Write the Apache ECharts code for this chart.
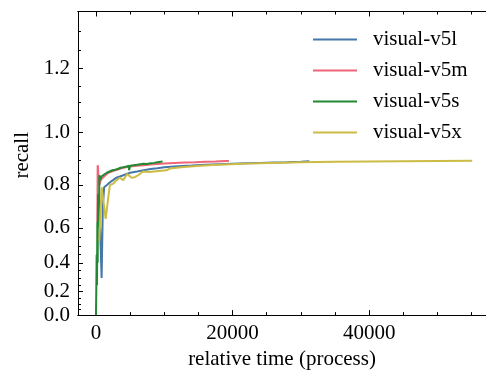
<!DOCTYPE html>
<html><head><meta charset="utf-8">
<script src="https://cdn.jsdelivr.net/npm/echarts@6/dist/echarts.min.js"></script>
<style>html,body{margin:0;padding:0;background:#fff}#c{width:486px;height:375px}</style>
</head><body><div id="c"></div>
<script>
// ---- data (recall vs relative time) ----
const names = ["visual-v5l", "visual-v5m", "visual-v5s", "visual-v5x"];
const colors = ["#4477AA", "#EE6677", "#228833", "#CCBB44"];

const v5lX = [400, 600, 830, 1000, 1200, 1600, 2000, 2500, 3000, 3500, 4000, 5000, 6000, 7000, 8000, 9000, 10000, 12000, 14000, 16000, 18000, 20000, 22000, 24000, 26000, 28000, 30000, 31240];
const v5lY = [0.53, 0.60, 0.30, 0.70, 0.79, 0.80, 0.81, 0.82, 0.83, 0.835, 0.84, 0.85, 0.855, 0.86, 0.865, 0.868, 0.872, 0.876, 0.879, 0.882, 0.884, 0.886, 0.888, 0.889, 0.890, 0.891, 0.893, 0.895];

const v5mX = [200, 250, 300, 400, 500, 700, 1000, 1400, 1800, 2300, 2800, 3400, 4000, 5000, 6000, 7000, 8000, 9000, 10000, 11500, 13000, 14500, 16000, 17500, 19000, 19460];
const v5mY = [0.63, 0.88, 0.87, 0.81, 0.80, 0.82, 0.83, 0.84, 0.85, 0.855, 0.86, 0.865, 0.87, 0.875, 0.878, 0.88, 0.883, 0.885, 0.887, 0.889, 0.89, 0.891, 0.893, 0.894, 0.896, 0.896];

const v5sX = [0, 50, 100, 150, 200, 250, 300, 400, 500, 600, 800, 1000, 1300, 1600, 2000, 2400, 2800, 3200, 3600, 4000, 4500, 4800, 4850, 5000, 5500, 6000, 6500, 7000, 7500, 8000, 8500, 9000, 9500, 9740];
const v5sY = [0.0, 0.22, 0.45, 0.25, 0.63, 0.40, 0.76, 0.60, 0.84, 0.82, 0.835, 0.84, 0.845, 0.85, 0.855, 0.86, 0.862, 0.865, 0.87, 0.872, 0.875, 0.878, 0.86, 0.878, 0.88, 0.882, 0.884, 0.886, 0.885, 0.888, 0.889, 0.891, 0.893, 0.895];

const v5xX = [480, 830, 1000, 1420, 1700, 2040, 2500, 3022, 3504, 3985, 4569, 5212, 5693, 6175, 6905, 7800, 8861, 10321, 10803, 12500, 14700, 17000, 19560, 22500, 25400, 30000, 35000, 40000, 45000, 50000, 55080];
const v5xY = [0.53, 0.79, 0.75, 0.645, 0.72, 0.80, 0.805, 0.82, 0.83, 0.82, 0.845, 0.83, 0.832, 0.84, 0.855, 0.853, 0.856, 0.86, 0.867, 0.872, 0.877, 0.881, 0.884, 0.887, 0.889, 0.891, 0.893, 0.894, 0.895, 0.896, 0.897];

// ---- ticks ----
const xMajorTicks = [0, 20000, 40000];
const xMinorTicks = [5000, 10000, 15000, 25000, 30000, 35000, 45000, 50000, 55000];
const yMajorTicks = [0.0, 0.2, 0.4, 0.6, 0.8, 1.0, 1.2];
const yMinorTicks = [0.05, 0.1, 0.15, 0.25, 0.3, 0.35, 0.45, 0.5, 0.55, 0.65, 0.7, 0.75, 0.85, 0.9, 0.95, 1.05, 1.1, 1.15, 1.25, 1.3, 1.35];
const xRange = [-2630, 57100];
const yRange = [0, 1.35];

// y axis uses the forward transform e^y - 1 (matplotlib function scale)
const fwd = v => Math.exp(v) - 1;
const inv = t => Math.log(t + 1);

const FONT = "Liberation Serif";
const FS = 21;
const seriesX = [v5lX, v5mX, v5sX, v5xX];
const seriesY = [v5lY, v5mY, v5sY, v5xY];

const lineStyleAxis = {color: "#000", width: 1};
function xAx(pos, ticks, len, labels) {
  return {
    type: "value", position: pos, min: xRange[0], max: xRange[1],
    axisLine: {show: true, onZero: false, lineStyle: lineStyleAxis},
    axisTick: {show: true, inside: true, length: len, customValues: ticks, lineStyle: {color: "#000", width: 1}},
    axisLabel: labels ? {show: true, customValues: xMajorTicks, margin: 8, color: "#000", fontFamily: FONT, fontSize: FS,
      formatter: v => String(Math.round(v))} : {show: false},
    splitLine: {show: false}
  };
}
function yAx(ticks, len, labels) {
  return {
    type: "value", position: "left", min: fwd(yRange[0]), max: fwd(yRange[1]),
    axisLine: {show: true, onZero: false, lineStyle: lineStyleAxis},
    axisTick: {show: true, inside: true, length: len, customValues: ticks.map(fwd), lineStyle: {color: "#000", width: 1}},
    axisLabel: labels ? {show: true, customValues: yMajorTicks.map(fwd), margin: 8, color: "#000", fontFamily: FONT, fontSize: FS,
      formatter: v => inv(v).toFixed(1)} : {show: false},
    splitLine: {show: false},
    name: labels ? "recall" : "", nameLocation: "middle", nameGap: 37,
    nameTextStyle: {color: "#000", fontFamily: FONT, fontSize: FS, padding: [0, 0, 0, 16]}
  };
}

const xAxes = [xAx("bottom", xMajorTicks, 5, true), xAx("bottom", xMinorTicks, 3, false),
               xAx("top", xMajorTicks, 5, false), xAx("top", xMinorTicks, 3, false)];
xAxes[0].name = "relative time (process)";
xAxes[0].nameLocation = "middle";
xAxes[0].nameGap = 29;
xAxes[0].nameTextStyle = {color: "#000", fontFamily: FONT, fontSize: FS};

const series = names.map((n, i) => ({
  name: n, type: "line", showSymbol: false, symbol: "none",
  xAxisIndex: 0, yAxisIndex: 0,
  lineStyle: {color: colors[i], width: 2}, itemStyle: {color: colors[i]},
  data: seriesX[i].map((x, k) => [x, fwd(seriesY[i][k])])
}));

const chart = echarts.init(document.getElementById("c"), null, {renderer: "canvas"});
chart.setOption({
  animation: false,
  backgroundColor: "#fff",
  grid: {left: 78, right: -1, top: 11.5, bottom: 55.5, containLabel: false},
  xAxis: xAxes,
  yAxis: [yAx(yMajorTicks, 5, true), yAx(yMinorTicks, 3, false)],
  legend: {
    orient: "vertical", left: 313, top: 29, padding: 0, itemWidth: 44, itemHeight: 2, itemGap: 10,
    icon: "rect",
    data: names,
    textStyle: {color: "#000", fontFamily: FONT, fontSize: FS, lineHeight: 21, padding: [0, 0, 0, 11]}
  },
  series: series
});
</script>
</body></html>
